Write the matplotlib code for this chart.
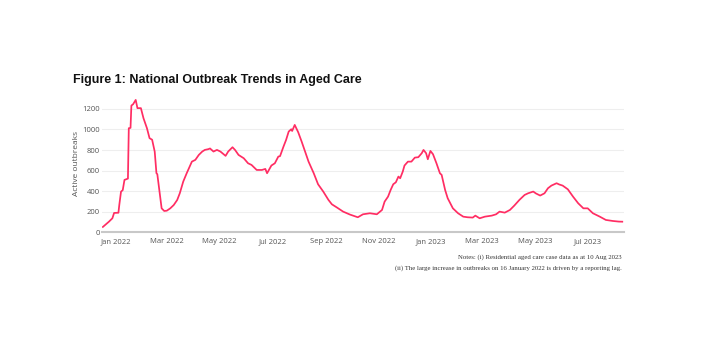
import pandas as pd
import matplotlib.pyplot as plt
import matplotlib.dates as mdates

dates = [
    "2021-12-17", "2021-12-24", "2021-12-28", "2021-12-30", "2022-01-04",
    "2022-01-05", "2022-01-07", "2022-01-09", "2022-01-11", "2022-01-15",
    "2022-01-16", "2022-01-18", "2022-01-19", "2022-01-21", "2022-01-24",
    "2022-01-26", "2022-01-30", "2022-02-02", "2022-02-06", "2022-02-09",
    "2022-02-12", "2022-02-15", "2022-02-17", "2022-02-18", "2022-02-21",
    "2022-02-23", "2022-02-26", "2022-03-01", "2022-03-05", "2022-03-09",
    "2022-03-13", "2022-03-16", "2022-03-20", "2022-03-24", "2022-03-30",
    "2022-04-03", "2022-04-07", "2022-04-11", "2022-04-14", "2022-04-18",
    "2022-04-20", "2022-04-24", "2022-04-28", "2022-05-02", "2022-05-08",
    "2022-05-11", "2022-05-16", "2022-05-19", "2022-05-23", "2022-05-29",
    "2022-06-03", "2022-06-07", "2022-06-13", "2022-06-19", "2022-06-23",
    "2022-06-25", "2022-06-30", "2022-07-04", "2022-07-08", "2022-07-10",
    "2022-07-14", "2022-07-17", "2022-07-20", "2022-07-23", "2022-07-24",
    "2022-07-27", "2022-07-31", "2022-08-04", "2022-08-08", "2022-08-12",
    "2022-08-18", "2022-08-23", "2022-08-29", "2022-09-04", "2022-09-08",
    "2022-09-14", "2022-09-21", "2022-09-29", "2022-10-08", "2022-10-14",
    "2022-10-22", "2022-10-30", "2022-11-05", "2022-11-08", "2022-11-12",
    "2022-11-15", "2022-11-18", "2022-11-21", "2022-11-24", "2022-11-26",
    "2022-11-29", "2022-12-01", "2022-12-05", "2022-12-09", "2022-12-13",
    "2022-12-17", "2022-12-21", "2022-12-23", "2022-12-26", "2022-12-28",
    "2022-12-31", "2023-01-03", "2023-01-07", "2023-01-11", "2023-01-13",
    "2023-01-17", "2023-01-20", "2023-01-26", "2023-02-01", "2023-02-07",
    "2023-02-12", "2023-02-18", "2023-02-21", "2023-02-26", "2023-03-04",
    "2023-03-12", "2023-03-17", "2023-03-21", "2023-03-27", "2023-04-02",
    "2023-04-07", "2023-04-13", "2023-04-19", "2023-04-23", "2023-04-29",
    "2023-05-02", "2023-05-07", "2023-05-12", "2023-05-16", "2023-05-20",
    "2023-05-26", "2023-05-29", "2023-06-02", "2023-06-08", "2023-06-14",
    "2023-06-20", "2023-06-26", "2023-07-01", "2023-07-07", "2023-07-15",
    "2023-07-22", "2023-07-30", "2023-08-06", "2023-08-10",
]
outbreaks = [
    52, 103, 136, 188, 190,
    265, 395, 410, 509, 522,
    1012, 1015, 1232, 1245, 1287,
    1207, 1207, 1109, 1012, 915,
    900, 784, 574, 565, 363,
    233, 207, 210, 233, 265,
    314, 379, 493, 574, 687,
    704, 752, 785, 801, 808,
    815, 785, 801, 785, 743,
    785, 827, 800, 752, 720,
    671, 655, 606, 606, 616,
    574, 649, 671, 736, 740,
    833, 898, 979, 1002, 985,
    1044, 973, 882, 785, 687,
    574, 467, 396, 315, 272,
    240, 201, 172, 146, 175,
    185, 175, 217, 298, 347,
    412, 467, 486, 542, 525,
    590, 649, 687, 687, 726,
    730, 769, 801, 769, 710,
    791, 759, 671, 574, 558,
    412, 331, 233, 185, 152,
    146, 143, 162, 136, 152,
    162, 175, 201, 191, 217,
    259, 315, 363, 379, 396,
    378, 357, 379, 428, 454,
    477, 465, 454, 418, 347,
    282, 233, 233, 185, 152,
    120, 110, 104, 103,
]
y_ticks = [0, 200, 400, 600, 800, 1000, 1200]

title = "Figure 1: National Outbreak Trends in Aged Care"
note_1 = "Notes: (i) Residential aged care case data as at 10 Aug 2023"
note_2 = "(ii) The large increase in outbreaks on 16 January 2022 is driven by a reporting lag."

x = pd.to_datetime(dates)

fig = plt.figure(figsize=(7.02, 3.42), dpi=100)
ax = fig.add_axes([102 / 702, 0.3208, 522 / 702, 0.40])

ax.plot(x, outbreaks, color="#ff2d63", linewidth=1.25, solid_joinstyle="round")

ax.set_xlim(pd.Timestamp("2021-12-16"), pd.Timestamp("2023-08-12"))
ax.set_ylim(0, 1330)
ax.set_yticks(y_ticks)
ax.grid(axis="y", color="#eeeeee", linewidth=0.8)
ax.set_axisbelow(True)

ax.xaxis.set_major_locator(mdates.MonthLocator(bymonth=[1, 3, 5, 7, 9, 11]))
ax.xaxis.set_major_formatter(mdates.DateFormatter("%b %Y"))

for side in ["top", "right", "left"]:
    ax.spines[side].set_visible(False)
ax.spines["bottom"].set_color("#c8c8c8")
ax.spines["bottom"].set_linewidth(1.5)

ax.tick_params(axis="x", length=0, labelsize=5.5, labelcolor="#555555", pad=4)
ax.tick_params(axis="y", length=0, labelsize=5.5, labelcolor="#555555", pad=1.5)
for lbl in ax.get_xticklabels() + ax.get_yticklabels():
    lbl.set_fontfamily("Open Sans")
ax.set_ylabel("Active outbreaks", fontsize=6, color="#555555",
              fontfamily="Open Sans", labelpad=1.5)

fig.text(73 / 702, 1 - 80 / 342, title, fontsize=9.0, fontweight="bold",
         fontfamily="Liberation Sans", va="center", ha="left", color="#111111")
fig.text(622 / 702, 1 - 257 / 342, note_1, fontsize=4.9,
         fontfamily="Liberation Serif", ha="right", va="center", color="#333333")
fig.text(622 / 702, 1 - 268 / 342, note_2, fontsize=4.9,
         fontfamily="Liberation Serif", ha="right", va="center", color="#333333")

fig.savefig("out.png", dpi=100, facecolor="white")
